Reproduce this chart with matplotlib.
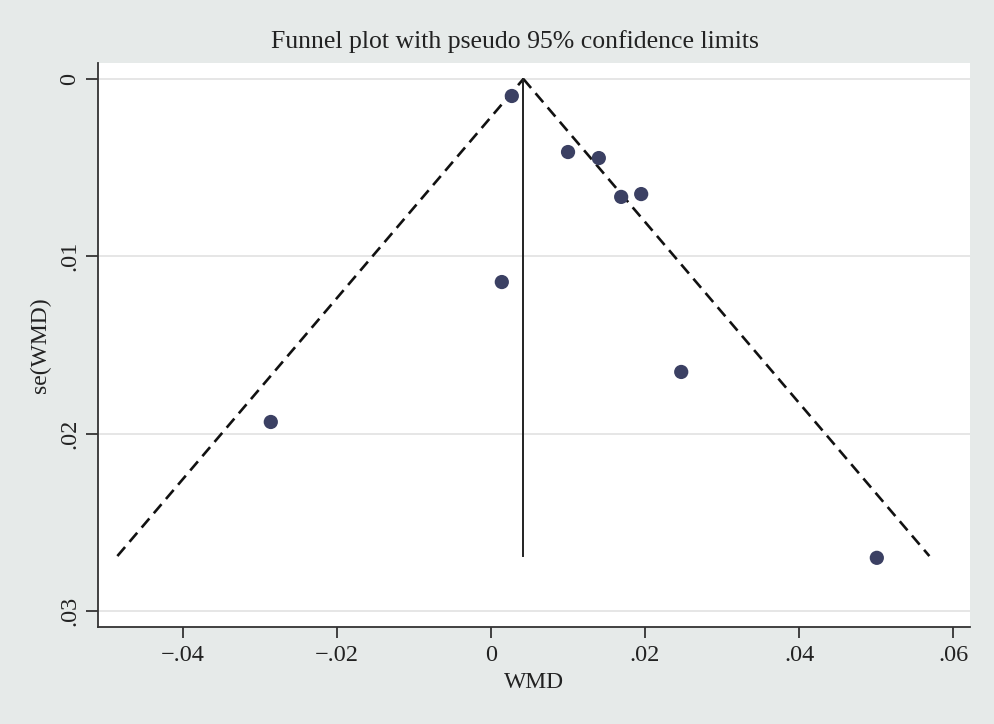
import matplotlib
matplotlib.use("Agg")
import matplotlib.pyplot as plt
import numpy as np

# Study estimates
wmd = [0.0027, 0.0100, 0.0140, 0.0169, 0.0195, 0.0014, 0.0247, -0.0286, 0.0501]
se_wmd = [0.00096, 0.00412, 0.00446, 0.00665, 0.00649, 0.01145, 0.01652, 0.01934, 0.0270]
pooled = 0.0042
se_max = 0.0269
z95 = 1.96

x_ticks = [-0.04, -0.02, 0.0, 0.02, 0.04, 0.06]
x_labels = ["\u2212.04", "\u2212.02", "0", ".02", ".04", ".06"]
y_ticks = [0.0, 0.01, 0.02, 0.03]
y_labels = ["0", ".01", ".02", ".03"]

plt.rcParams['font.family'] = ['Liberation Serif', 'DejaVu Serif']
bg = "#e6eae9"

fig = plt.figure(figsize=(9.94, 7.24), dpi=100, facecolor=bg)
ax = fig.add_axes([98/994, 1-627/724, (970-98)/994, (627-63)/724])
ax.set_facecolor("white")

for yt in y_ticks:
    ax.axhline(yt, color="#e6e6e6", lw=1.4, zorder=0)

# funnel lines
ax.plot([pooled - z95*se_max, pooled], [se_max, 0], color="#111111", lw=1.9,
        dashes=(4.5, 2.6), zorder=2)
ax.plot([pooled, pooled + z95*se_max], [0, se_max], color="#111111", lw=1.9,
        dashes=(4.5, 2.6), zorder=2)
ax.plot([pooled, pooled], [0, se_max], color="#222222", lw=1.4, zorder=2)

ax.scatter(wmd, se_wmd, s=105, color="#3b4063", edgecolors="none", zorder=3)

ax.set_xlim(-0.05104, 0.0622)
ax.set_ylim(0.0309, -0.0009)

ax.set_xticks(x_ticks)
ax.set_xticklabels(x_labels)
ax.set_yticks(y_ticks)
ax.set_yticklabels(y_labels, rotation=90, va="center")

for s in ["top", "right"]:
    ax.spines[s].set_visible(False)
for s in ["left", "bottom"]:
    ax.spines[s].set_color("#333333")
    ax.spines[s].set_linewidth(1.3)

ax.tick_params(axis="x", direction="out", length=8, width=1.3, color="#333333",
               labelsize=17.5, labelcolor="#222222", pad=5)
ax.tick_params(axis="y", direction="out", length=9, width=1.3, color="#333333",
               labelsize=17.5, labelcolor="#222222", pad=4)

ax.set_xlabel("WMD", fontsize=17, color="#222222", labelpad=4)
ax.set_ylabel("se(WMD)", fontsize=17, color="#222222", labelpad=6)

fig.text(515/994, 1-42/724, "Funnel plot with pseudo 95% confidence limits",
         ha="center", va="center", fontsize=18.5, color="#222222")

fig.savefig("out.png", dpi=100, facecolor=bg)
